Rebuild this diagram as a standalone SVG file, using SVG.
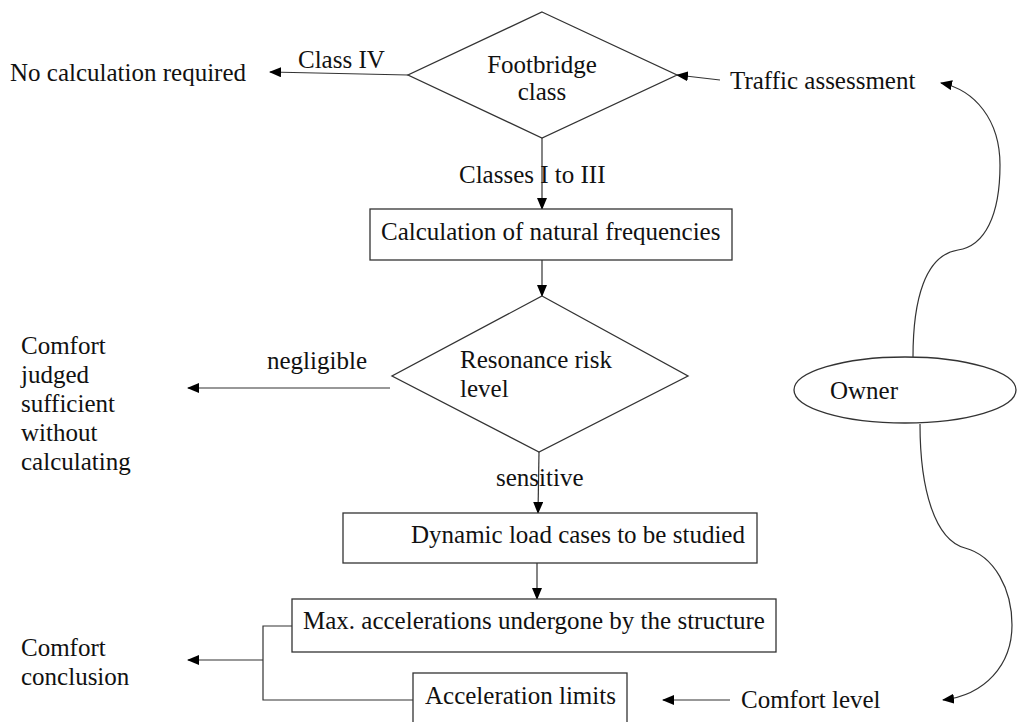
<svg xmlns="http://www.w3.org/2000/svg" width="1018" height="722" viewBox="0 0 1018 722">
<defs>
<marker id="arr" markerWidth="12" markerHeight="10" refX="11" refY="5" orient="auto" markerUnits="userSpaceOnUse">
<path d="M0,0 L12,5 L0,10 Z" fill="#000"/>
</marker>
<style>
text{font-family:"Liberation Serif","Times New Roman",serif;font-size:25px;fill:#111}
.shape{fill:#fff;stroke:#333;stroke-width:1.3}
.line{fill:none;stroke:#333;stroke-width:1.2}
.arrow{fill:none;stroke:#333;stroke-width:1.2;marker-end:url(#arr)}
.mid{text-anchor:middle}
</style>
</defs>
<rect width="1018" height="722" fill="#fff"/>
<g id="connectors">
<path class="arrow" d="M408,75 L270,72"/>
<path class="arrow" d="M720,80 L677,75"/>
<path class="arrow" d="M542,138 L542,209"/>
<path class="arrow" d="M542,260 L542,296"/>
<path class="arrow" d="M390,388 L188,388"/>
<path class="arrow" d="M539,452 L538,513"/>
<path class="arrow" d="M537,563 L537,599"/>
<path class="line" d="M292,626 L263,626 L263,700 L413,700"/>
<path class="arrow" d="M263,660 L188,660"/>
<path class="arrow" d="M730,700 L663,700"/>
<path class="arrow" d="M913,357 C913,300 925,255 958,250 C985,246 1000,215 1000,165 C1000,120 975,90 941,83"/>
<path class="arrow" d="M920,424 C920,490 935,540 965,548 C995,556 1012,590 1012,625 C1012,665 985,695 943,700"/>
</g>
<g id="footbridge-class">
<polygon class="shape" points="542,12 677,75 542,138 408,75"/>
<text x="542" y="73" class="mid">Footbridge</text>
<text x="542" y="100" class="mid">class</text>
</g>
<g id="no-calculation">
<text x="10" y="81">No calculation required</text>
</g>
<g id="label-class-iv">
<text x="298" y="68">Class IV</text>
</g>
<g id="traffic-assessment">
<text x="730" y="89">Traffic assessment</text>
</g>
<g id="label-classes">
<text x="459" y="183">Classes I to III</text>
</g>
<g id="natural-frequencies">
<rect class="shape" x="370" y="209" width="362" height="51"/>
<text x="381" y="240">Calculation of natural frequencies</text>
</g>
<g id="resonance-risk">
<polygon class="shape" points="542,296 688,376 539,452 392,376"/>
<text x="460" y="368">Resonance risk</text>
<text x="460" y="397">level</text>
</g>
<g id="label-negligible">
<text x="267" y="369">negligible</text>
</g>
<g id="comfort-sufficient">
<text x="21" y="354">Comfort</text>
<text x="21" y="383">judged</text>
<text x="21" y="412">sufficient</text>
<text x="21" y="441">without</text>
<text x="21" y="470">calculating</text>
</g>
<g id="label-sensitive">
<text x="496" y="486">sensitive</text>
</g>
<g id="dynamic-load">
<rect class="shape" x="343" y="513" width="414" height="50"/>
<text x="411" y="543">Dynamic load cases to be studied</text>
</g>
<g id="max-accelerations">
<rect class="shape" x="292" y="599" width="484" height="53"/>
<text x="303" y="629">Max. accelerations undergone by the structure</text>
</g>
<g id="acceleration-limits">
<rect class="shape" x="413" y="673" width="214" height="60"/>
<text x="425" y="704">Acceleration limits</text>
</g>
<g id="comfort-conclusion">
<text x="21" y="656">Comfort</text>
<text x="21" y="685">conclusion</text>
</g>
<g id="comfort-level">
<text x="741" y="708">Comfort level</text>
</g>
<g id="owner">
<ellipse class="shape" cx="905" cy="390" rx="111" ry="33"/>
<text x="830" y="399">Owner</text>
</g>
</svg>
